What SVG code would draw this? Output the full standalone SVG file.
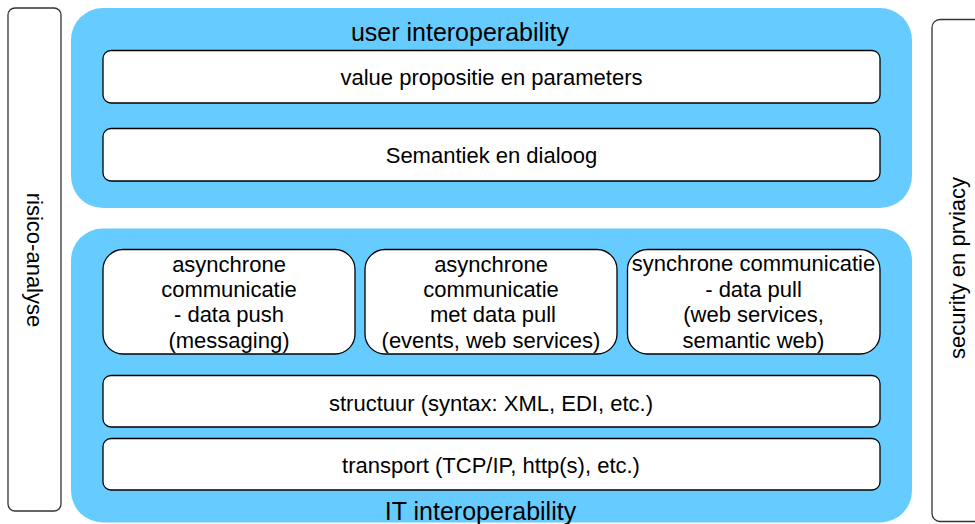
<svg xmlns="http://www.w3.org/2000/svg" width="975" height="524" viewBox="0 0 975 524">
  <style>
    .panel { fill: #66CCFF; stroke: none; }
    .box { fill: #FFFFFF; stroke: #000000; stroke-width: 1.3; }
    .side { fill: #FFFFFF; stroke: #333333; stroke-width: 1.3; }
    text { font-family: "Liberation Sans", Arial, Helvetica, sans-serif; fill: #000000; text-anchor: middle; }
    .lbl { font-size: 22px; }
    .title { font-size: 25px; }
  </style>
  <rect width="975" height="524" fill="#FFFFFF"/>

  <!-- side bars -->
  <g id="risico-analyse">
    <rect class="side" x="8" y="8" width="53" height="503" rx="7"/>
    <text class="lbl" transform="translate(26.5,260) rotate(90)">risico-analyse</text>
  </g>
  <g id="security">
    <rect class="side" x="932" y="19.5" width="60" height="502" rx="8"/>
    <text class="lbl" transform="translate(965,268) rotate(-90)">security en prviacy</text>
  </g>

  <!-- user interoperability layer -->
  <g id="user-interoperability">
    <rect class="panel" x="71" y="8" width="841" height="200" rx="32"/>
    <text class="title" x="460" y="40.5">user interoperability</text>
  </g>
  <g id="value-propositie">
    <rect class="box" x="103" y="50.5" width="777" height="52.5" rx="8"/>
    <text class="lbl" x="491.5" y="85">value propositie en parameters</text>
  </g>
  <g id="semantiek">
    <rect class="box" x="103" y="128.5" width="777" height="52.5" rx="8"/>
    <text class="lbl" x="491.5" y="163">Semantiek en dialoog</text>
  </g>

  <!-- IT interoperability layer -->
  <g id="it-interoperability">
    <rect class="panel" x="71" y="228.5" width="841" height="294" rx="32"/>
    <text class="title" x="480.5" y="520">IT interoperability</text>
  </g>
  <g id="async-push">
    <rect class="box" x="103" y="249.5" width="252" height="104.5" rx="20"/>
    <text class="lbl" x="229" y="272">asynchrone</text>
    <text class="lbl" x="229" y="297">communicatie</text>
    <text class="lbl" x="229" y="322">- data push</text>
    <text class="lbl" x="229" y="348">(messaging)</text>
  </g>
  <g id="async-pull">
    <rect class="box" x="365" y="249.5" width="252" height="104.5" rx="20"/>
    <text class="lbl" x="491" y="272">asynchrone</text>
    <text class="lbl" x="491" y="297">communicatie</text>
    <text class="lbl" x="493" y="322">met data pull</text>
    <text class="lbl" x="491" y="348">(events, web services)</text>
  </g>
  <g id="sync-pull">
    <rect class="box" x="627.5" y="249.5" width="252.5" height="104.5" rx="20"/>
    <text class="lbl" x="753.5" y="271">synchrone communicatie</text>
    <text class="lbl" x="753.5" y="297">- data pull</text>
    <text class="lbl" x="753.5" y="322">(web services,</text>
    <text class="lbl" x="753.5" y="348">semantic web)</text>
  </g>
  <g id="structuur">
    <rect class="box" x="103" y="375.5" width="777" height="51.5" rx="8"/>
    <text class="lbl" x="491" y="411">structuur (syntax: XML, EDI, etc.)</text>
  </g>
  <g id="transport">
    <rect class="box" x="103" y="438.5" width="777" height="51.5" rx="8"/>
    <text class="lbl" x="491" y="473">transport (TCP/IP, http(s), etc.)</text>
  </g>

  <!-- no connectors in this layered diagram -->
  <g id="connectors"/>
</svg>
